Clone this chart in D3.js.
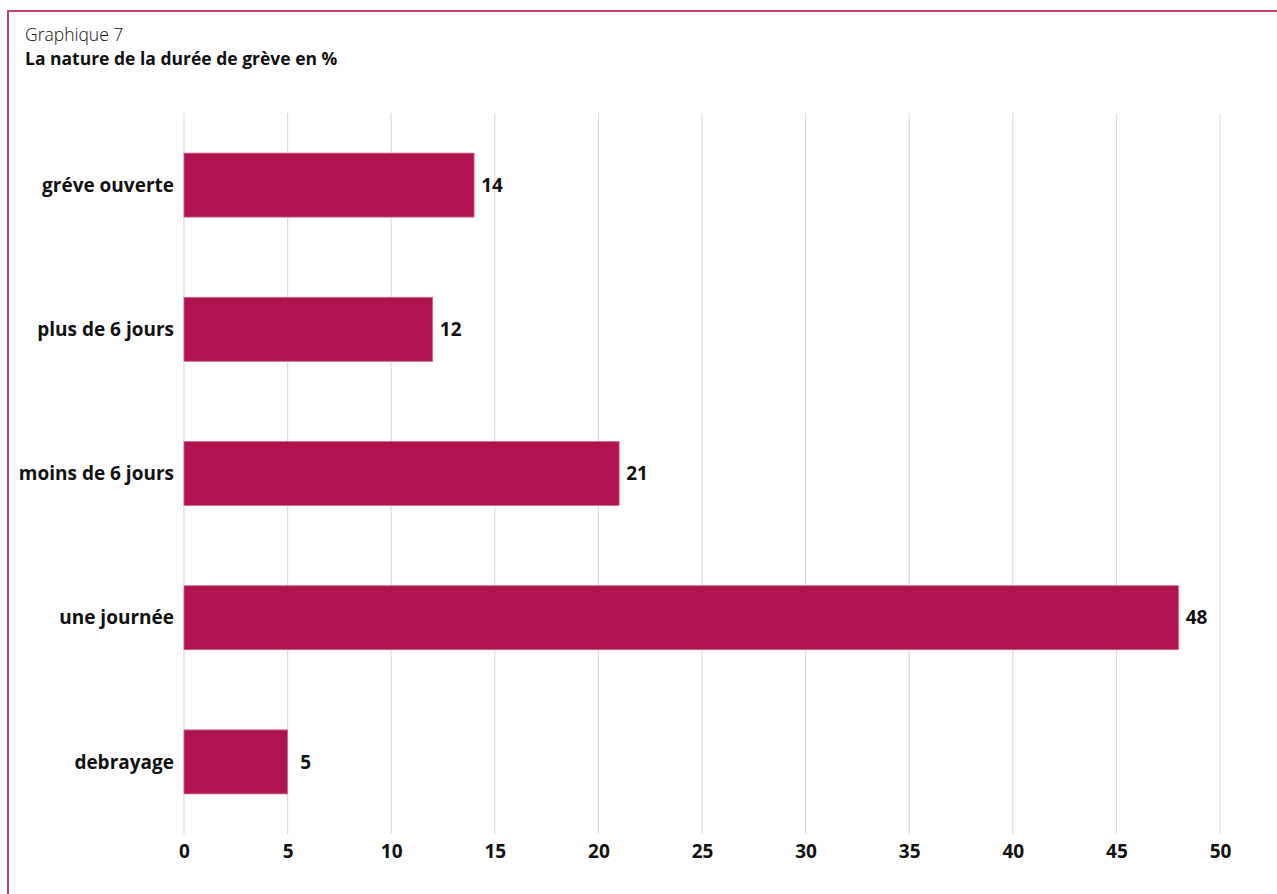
<!DOCTYPE html>
<html><head><meta charset="utf-8">
<script src="https://cdn.jsdelivr.net/npm/d3@7"></script>
<style>
body{margin:0;background:#fff;}
svg{display:block;font-family:"Open Sans",sans-serif;}
</style></head>
<body>
<svg id="chart" width="1277" height="894"></svg>
<script>
const categories = ["gréve ouverte","plus de 6 jours","moins de 6 jours","une journée","debrayage"];
const values = [14, 12, 21, 48, 5];
const tickValues = [0,5,10,15,20,25,30,35,40,45,50];
const subtitle = "Graphique 7";
const title = "La nature de la durée de grève en %";

const svg = d3.select("#chart");
// frame
svg.append("line").attr("x1",7).attr("x2",1277).attr("y1",11).attr("y2",11)
  .attr("stroke","#c4406f").attr("stroke-width",2);
svg.append("line").attr("x1",8).attr("x2",8).attr("y1",10).attr("y2",894)
  .attr("stroke","#c4406f").attr("stroke-width",2);

svg.append("text").attr("x",25).attr("y",41).attr("font-size",17.5).attr("font-weight",300)
  .attr("fill","#111").text(subtitle);
svg.append("text").attr("x",25).attr("y",65).attr("font-size",17.5).attr("font-weight",700)
  .attr("fill","#111").text(title);

const x = d3.scaleLinear().domain([0,50]).range([184,1220]);
const y = d3.scaleBand().domain(categories).range([113,834]).paddingInner(0.556).paddingOuter(0.278);

// grid
svg.append("g").selectAll("line").data(tickValues).join("line")
  .attr("x1",d=>x(d)).attr("x2",d=>x(d)).attr("y1",113).attr("y2",834)
  .attr("stroke","#dcdcdc").attr("stroke-width",1.2);

// bars
svg.append("g").selectAll("rect").data(categories).join("rect")
  .attr("x",x(0)).attr("y",d=>y(d))
  .attr("width",(d,i)=>x(values[i])-x(0)).attr("height",y.bandwidth())
  .attr("fill","#b01450").attr("stroke","#d46a90").attr("stroke-width",0.8);

// value labels
svg.append("g").selectAll("text").data(categories).join("text")
  .attr("x",(d,i)=>x(values[i])+18).attr("y",d=>y(d)+y.bandwidth()/2)
  .attr("dy","0.35em").attr("text-anchor","middle")
  .attr("font-size",19).attr("font-weight",700).attr("fill","#111")
  .text((d,i)=>values[i]);

// category axis labels
svg.append("g").selectAll("text").data(categories).join("text")
  .attr("x",174).attr("y",d=>y(d)+y.bandwidth()/2)
  .attr("dy","0.35em").attr("text-anchor","end")
  .attr("font-size",19).attr("font-weight",700).attr("fill","#111")
  .text(d=>d);

// x axis
const xAxis = d3.axisBottom(x).tickValues(tickValues).tickSize(0).tickPadding(0);
const gx = svg.append("g").attr("transform","translate(0,844)").call(xAxis);
gx.select(".domain").remove();
gx.selectAll("text").attr("font-family","'Open Sans',sans-serif").attr("font-size",19)
  .attr("font-weight",700).attr("fill","#111");
</script>
</body></html>
